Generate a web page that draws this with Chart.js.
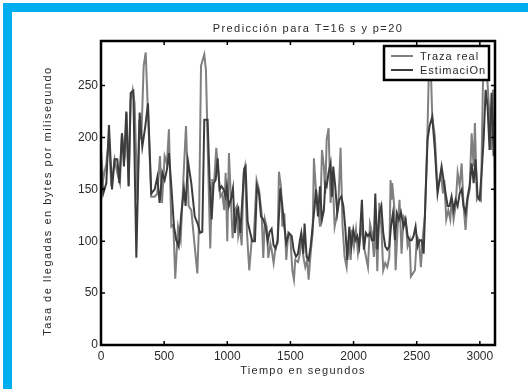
<!DOCTYPE html>
<html>
<head>
<meta charset="utf-8">
<script src="https://cdn.jsdelivr.net/npm/chart.js@4.4.1/dist/chart.umd.min.js"></script>
<style>
  html, body { margin: 0; padding: 0; background: #fff; }
  #wrap { position: relative; width: 528px; height: 389px; overflow: hidden; }
  #marco { position: absolute; left: 3px; top: 3px; right: 0; bottom: 0;
           border-left: 9px solid #00adee; border-top: 9px solid #00adee; pointer-events: none; }
  canvas { position: absolute; left: 0; top: 0; }
</style>
</head>
<body>
<div id="wrap">
  <canvas id="grafico" width="528" height="389"></canvas>
  <div id="marco"></div>
</div>
<script>
// Traza real: instantes (s) y tasa (bytes/ms)
const tiemposReal = [0, 16, 42, 63, 82, 108, 129, 150, 166, 187, 203, 219, 235, 251, 266, 288, 303, 319, 338, 354,
  372, 398, 425, 446, 467, 483, 504, 522, 538, 557, 573, 588, 610, 631, 652, 673, 694, 715, 742, 763,
  776, 792, 818, 831, 850, 865, 881, 897, 913, 929, 945, 960, 976, 987, 1000, 1013, 1029, 1042, 1061, 1077,
  1087, 1100, 1114, 1129, 1140, 1156, 1174, 1193, 1209, 1232, 1251, 1272, 1285, 1298, 1312, 1325, 1341, 1351, 1367, 1383,
  1399, 1409, 1425, 1436, 1452, 1467, 1483, 1499, 1515, 1528, 1538, 1560, 1575, 1586, 1602, 1618, 1633, 1644, 1660, 1676,
  1686, 1702, 1718, 1734, 1750, 1765, 1776, 1787, 1802, 1818, 1834, 1850, 1866, 1882, 1897, 1913, 1929, 1945, 1961, 1977,
  1987, 2003, 2019, 2035, 2051, 2066, 2082, 2098, 2114, 2130, 2146, 2161, 2177, 2188, 2204, 2220, 2235, 2251, 2267, 2283,
  2293, 2300, 2306, 2322, 2333, 2349, 2364, 2380, 2396, 2412, 2428, 2444, 2454, 2470, 2486, 2502, 2518, 2533, 2549, 2565,
  2584, 2597, 2610, 2623, 2644, 2663, 2676, 2692, 2708, 2718, 2734, 2750, 2766, 2776, 2792, 2808, 2824, 2840, 2856, 2871,
  2887, 2903, 2919, 2935, 2951, 2961, 2977, 2993, 3009, 3024, 3040, 3056, 3072, 3088, 3104, 3114, 3125];
const trazaReal = [188, 159, 175, 198, 153, 179, 166, 156, 204, 179, 224, 153, 236, 246, 233, 140, 217, 198, 269, 282,
  224, 143, 143, 146, 182, 137, 182, 175, 208, 114, 116, 64, 114, 101, 159, 211, 134, 130, 95, 69,
  117, 269, 280, 265, 166, 93, 159, 159, 190, 166, 143, 146, 130, 166, 100, 185, 140, 103, 130, 134,
  105, 114, 96, 166, 172, 108, 72, 101, 101, 159, 150, 127, 84, 121, 114, 84, 98, 92, 79, 95,
  98, 167, 153, 114, 127, 82, 108, 105, 72, 63, 82, 80, 88, 108, 85, 75, 82, 63, 88, 108,
  180, 150, 137, 114, 188, 172, 146, 198, 209, 137, 162, 114, 124, 143, 190, 114, 85, 75, 101, 82,
  111, 95, 111, 88, 101, 114, 95, 85, 75, 117, 108, 85, 114, 71, 137, 114, 72, 79, 75, 85,
  159, 140, 156, 134, 72, 114, 140, 88, 124, 121, 95, 101, 66, 69, 72, 105, 101, 75, 105, 124,
  198, 269, 275, 220, 201, 153, 156, 166, 146, 159, 121, 130, 121, 140, 121, 134, 166, 153, 175, 134,
  111, 140, 150, 204, 172, 214, 140, 143, 140, 249, 288, 262, 230, 188, 246, 198, 69];

// Estimación
const tiemposEst = [0, 18, 42, 63, 87, 108, 129, 145, 166, 182, 200, 219, 235, 256, 280, 306, 327, 351, 372, 398,
  425, 446, 464, 486, 504, 522, 538, 557, 578, 596, 615, 636, 657, 670, 689, 715, 742, 768,
  784, 802, 818, 844, 860, 876, 892, 908, 924, 939, 955, 971, 987, 997, 1013, 1029, 1045, 1061, 1077, 1087,
  1103, 1119, 1135, 1145, 1161, 1182, 1198, 1219, 1235, 1251, 1267, 1285, 1304, 1320, 1335, 1351, 1367, 1383, 1399, 1420,
  1436, 1452, 1467, 1488, 1510, 1525, 1544, 1560, 1575, 1586, 1602, 1612, 1628, 1644, 1660, 1676, 1692, 1702, 1718, 1734,
  1750, 1765, 1776, 1787, 1802, 1818, 1829, 1839, 1855, 1871, 1887, 1903, 1919, 1934, 1950, 1966, 1982, 1998, 2014, 2029,
  2045, 2066, 2082, 2098, 2114, 2130, 2146, 2161, 2172, 2188, 2204, 2220, 2235, 2251, 2267, 2283,
  2296, 2312, 2328, 2343, 2359, 2375, 2396, 2412, 2428, 2444, 2460, 2475, 2491, 2507, 2523, 2539, 2555, 2570,
  2586, 2602, 2623, 2644, 2665, 2681, 2697, 2713, 2729, 2745, 2760, 2776, 2792, 2808, 2824, 2840, 2856, 2871,
  2887, 2903, 2919, 2935, 2951, 2966, 2982, 2998, 3014, 3030, 3046, 3061, 3077, 3093, 3109, 3120];
const estimacion = [175, 146, 156, 212, 150, 179, 179, 156, 204, 172, 225, 153, 243, 245, 84, 224, 191, 211, 233, 146,
  150, 162, 137, 166, 159, 169, 185, 153, 114, 101, 95, 127, 150, 134, 177, 156, 124, 116,
  108, 109, 217, 217, 159, 121, 156, 159, 180, 150, 153, 150, 143, 153, 134, 140, 151, 108, 130, 132,
  108, 140, 170, 172, 119, 108, 100, 100, 153, 146, 124, 121, 114, 100, 109, 112, 96, 93, 101, 151,
  134, 114, 98, 108, 105, 92, 85, 88, 101, 108, 88, 117, 85, 82, 95, 114, 134, 150, 124, 153,
  121, 130, 156, 153, 166, 175, 143, 172, 153, 127, 140, 143, 134, 114, 82, 114, 95, 111, 101, 105,
  95, 140, 92, 108, 105, 108, 101, 101, 146, 92, 127, 134, 108, 95, 92, 95,
  114, 127, 101, 127, 121, 128, 114, 121, 105, 101, 101, 105, 114, 95, 101, 101, 88, 143,
  198, 211, 220, 188, 146, 159, 172, 159, 146, 134, 134, 143, 130, 140, 134, 146, 150, 134,
  127, 143, 153, 175, 156, 179, 143, 140, 166, 198, 246, 230, 188, 243, 182, 230];

const ticksX = [0, 500, 1000, 1500, 2000, 2500, 3000];
const ticksY = [0, 50, 100, 150, 200, 250];

const titulo = 'Predicción para T=16 s y p=20';
const tituloX = 'Tiempo en segundos';
const tituloY = 'Tasa de llegadas en bytes por milisegundo';
const etiquetas = ['Traza real', 'EstimaciOn'];

const fuente = '"Liberation Sans", Arial, sans-serif';
const colorTexto = '#2a2a2a';

function texto(ctx, s, x, y, tam, esp, rot) {
  ctx.save();
  ctx.font = tam + 'px ' + fuente;
  ctx.fillStyle = colorTexto;
  ctx.letterSpacing = esp + 'px';
  ctx.textAlign = 'center';
  ctx.textBaseline = 'middle';
  ctx.translate(x, y);
  if (rot) ctx.rotate(rot);
  ctx.fillText(s, 0, 0);
  ctx.restore();
}

// marco estilo matlab, marcas hacia dentro, titulos y leyenda
const estiloMatlab = {
  id: 'estiloMatlab',
  beforeDraw(chart) {
    const ctx = chart.ctx;
    ctx.save();
    ctx.fillStyle = '#fff';
    ctx.fillRect(0, 0, chart.width, chart.height);
    ctx.restore();
  },
  afterDraw(chart) {
    const ctx = chart.ctx;
    const a = chart.chartArea;
    const sx = chart.scales.x, sy = chart.scales.y;
    ctx.save();
    ctx.strokeStyle = '#000';
    ctx.lineWidth = 1.5;
    ctx.beginPath();
    ticksX.forEach(v => {
      const px = sx.getPixelForValue(v);
      ctx.moveTo(px, a.bottom); ctx.lineTo(px, a.bottom - 4);
      ctx.moveTo(px, a.top); ctx.lineTo(px, a.top + 4);
    });
    ticksY.forEach(v => {
      const py = sy.getPixelForValue(v);
      ctx.moveTo(a.left, py); ctx.lineTo(a.left + 4, py);
      ctx.moveTo(a.right, py); ctx.lineTo(a.right - 4, py);
    });
    ctx.stroke();
    ctx.lineWidth = 2.5;
    ctx.strokeRect(a.left, a.top, a.right - a.left, a.bottom - a.top);

    // leyenda
    const lx = 384, ly = 46, lw = 105, lh = 34;
    ctx.fillStyle = '#fff';
    ctx.fillRect(lx, ly, lw, lh);
    ctx.lineWidth = 2.5;
    ctx.strokeRect(lx, ly, lw, lh);
    chart.data.datasets.forEach((ds, i) => {
      const y = ly + 10 + i * 14;
      ctx.strokeStyle = ds.borderColor;
      ctx.lineWidth = 2;
      ctx.beginPath();
      ctx.moveTo(lx + 7, y); ctx.lineTo(lx + 29, y);
      ctx.stroke();
      ctx.save();
      ctx.font = '11px ' + fuente;
      ctx.fillStyle = colorTexto;
      ctx.letterSpacing = '1px';
      ctx.textBaseline = 'middle';
      ctx.fillText(ds.label, lx + 36, y + 1);
      ctx.restore();
    });
    ctx.restore();

    texto(ctx, titulo, 308, 29, 11, 1.4);
    texto(ctx, tituloX, 303, 371, 11, 1.3);
    texto(ctx, tituloY, 48, 201, 11, 1.5, -Math.PI / 2);
  }
};

new Chart(document.getElementById('grafico'), {
  type: 'line',
  data: {
    datasets: [{
      label: etiquetas[0],
      data: tiemposReal.map((t, i) => ({ x: t, y: trazaReal[i] })),
      borderColor: '#808080',
      borderWidth: 2,
      pointRadius: 0,
      tension: 0,
      order: 2
    }, {
      label: etiquetas[1],
      data: tiemposEst.map((t, i) => ({ x: t, y: estimacion[i] })),
      borderColor: '#3c3c3c',
      borderWidth: 2,
      pointRadius: 0,
      tension: 0,
      order: 1
    }]
  },
  options: {
    responsive: false,
    animation: false,
    devicePixelRatio: 1,
    layout: { padding: { left: 0, right: 33, top: 41, bottom: 0 } },
    plugins: { legend: { display: false }, tooltip: { enabled: false } },
    scales: {
      x: {
        type: 'linear',
        min: 0,
        max: 3120,
        afterFit: s => { s.height = 44; },
        afterBuildTicks: s => { s.ticks = ticksX.map(v => ({ value: v })); },
        grid: { display: false, drawTicks: false },
        border: { display: false },
        ticks: {
          padding: 4,
          maxRotation: 0,
          color: colorTexto,
          font: { family: fuente, size: 12 },
          callback: v => String(v)
        }
      },
      y: {
        min: 0,
        max: 293,
        afterFit: s => { s.width = 101; },
        afterBuildTicks: s => { s.ticks = ticksY.map(v => ({ value: v })); },
        grid: { display: false, drawTicks: false },
        border: { display: false },
        ticks: {
          padding: 3,
          color: colorTexto,
          font: { family: fuente, size: 12 },
          callback: v => String(v)
        }
      }
    }
  },
  plugins: [estiloMatlab]
});
</script>
</body>
</html>
